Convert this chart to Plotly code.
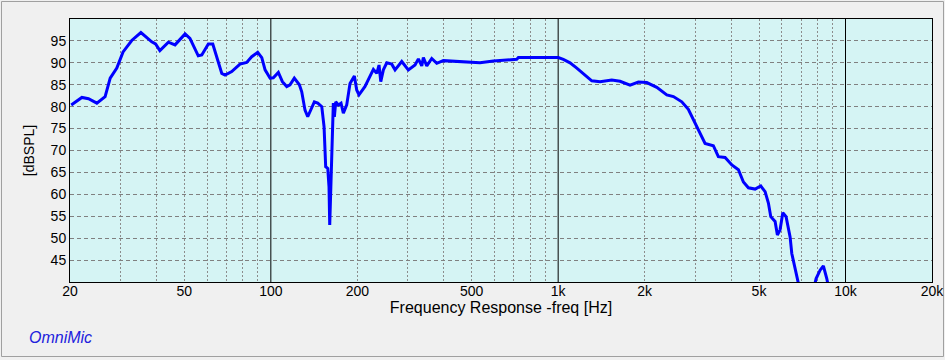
import math
import plotly.graph_objects as go

# ---- data ----
freq_hz = [20.2, 22.0, 23.2, 24.8, 26.5, 27.6, 29.1, 30.6, 32.8, 35.3, 38.5, 39.7, 41.1, 44.0,
           46.4, 50.3, 52.3, 55.9, 57.5, 60.6, 62.8, 64.8, 67.5, 69.3, 73.1, 78.1, 82.4, 85.8,
           90.0, 93.0, 95.5, 99.4, 102.0, 106.2, 109.7, 113.6, 116.6, 120.7, 125.7, 128.1,
           131.5, 134.4, 136.9, 141.7, 145.6, 150.4, 153.2, 154.4, 155.2, 157.8, 159.4, 160.3,
           162.0, 162.9, 165.0, 166.4, 168.2, 171.8, 175.5, 178.8, 183.7, 188.6, 195.3, 199.0,
           202.7, 212.7, 221.5, 227.4, 233.7, 238.0, 241.3, 246.4, 253.2, 263.5, 270.6, 285.5,
           301.0, 317.6, 326.2, 335.2, 339.5, 348.9, 363.1, 378.0, 398.5, 420.4, 467.8, 534.6,
           595, 680, 717.6, 727, 1001, 1042, 1100, 1161, 1224, 1309, 1399, 1536, 1642, 1779,
           1902, 2034, 2204, 2388, 2518, 2693, 2838, 2954, 3076, 3245, 3468, 3610, 3810, 4022,
           4240, 4413, 4592, 4846, 5071, 5250, 5391, 5494, 5688, 5794, 5920, 6050, 6211, 6414,
           6502, 6675, 6823, 7000, 7600, 7902, 8158, 8375, 8607, 8900]
spl_db = [80.4, 82.1, 81.8, 80.8, 82.3, 86.5, 88.8, 92.5, 95.1, 96.9, 94.8, 94.3, 92.8, 94.7,
          94.1, 96.6, 95.6, 91.6, 91.8, 94.3, 94.3, 91.4, 87.6, 87.2, 88.0, 89.7, 90.1, 91.4,
          92.4, 91.2, 88.4, 86.5, 86.6, 87.8, 85.7, 84.6, 85.0, 86.5, 85.0, 83.4,
          79.2, 77.7, 78.8, 81.1, 80.8, 80.0, 75.4, 70.1, 66.3, 65.9, 61.7, 53.0,
          63.3, 72.4, 80.8, 77.7, 81.1, 80.4, 80.8, 78.5, 80.4, 85.3, 87.0, 83.8,
          82.7, 84.6, 86.8, 88.5, 87.6, 89.5, 85.7, 88.4, 90.0, 89.7, 88.4, 90.3,
          88.4, 89.5, 90.9, 89.3, 91.2, 89.3, 91.0, 89.9, 90.5, 90.4, 90.1, 90.0,
          90.4, 90.6, 90.8, 91.2, 91.2, 90.8, 90.0, 88.8, 87.6, 85.9, 85.7, 86.1, 85.8, 84.9,
          85.6, 85.5, 84.4, 82.7, 82.3, 81.1, 79.4, 77.0, 74.7, 71.6, 71.1, 68.6, 68.4, 66.7,
          65.6, 62.8, 61.5, 61.2, 61.9, 60.6, 58.0, 54.9, 53.8, 50.7, 51.9, 55.8, 54.9, 50.3,
          46.5, 43.5, 40.8, 37.0, 36.0, 40.8, 42.7, 43.7, 40.8, 36.0]

x_tick_vals = [20, 50, 100, 200, 500, 1000, 2000, 5000, 10000, 20000]
x_tick_text = ["20", "50", "100", "200", "500", "1k", "2k", "5k", "10k", "20k"]
x_minor_vals = [30, 40, 50, 60, 70, 80, 90, 200, 300, 400, 500, 600, 700, 800, 900,
                2000, 3000, 4000, 5000, 6000, 7000, 8000, 9000]
x_decades = [100, 1000, 10000]
y_tick_vals = [45, 50, 55, 60, 65, 70, 75, 80, 85, 90, 95]
x_range = [20, 20000]
y_range = [40, 100]

fig = go.Figure()
fig.add_trace(go.Scatter(x=freq_hz, y=spl_db, mode="lines",
                         line=dict(color="#0000ff", width=3), showlegend=False,
                         hoverinfo="skip"))

for d in x_decades:
    fig.add_shape(type="line", xref="x", yref="paper", x0=d, x1=d, y0=0, y1=1,
                  line=dict(color="black", width=1), layer="between")

# outer window frame
ml, mr, mt, mb = 70, 13, 19, 78
W, H = 945, 360
pw, ph = W - ml - mr, H - mt - mb
fig.add_shape(type="rect", xref="paper", yref="paper",
              x0=(1.5 - ml) / pw, x1=(W - 1.5 - ml) / pw,
              y0=-((H - 3.5) - (H - mb)) / ph,
              y1=1 + (mt - 1.5) / ph,
              line=dict(color="#a0a0a0", width=1), fillcolor="rgba(0,0,0,0)", layer="below")

fig.add_annotation(text="<i>OmniMic</i>", xref="paper", yref="paper",
                   x=(27 - ml) / pw, y=-(337 - (H - mb)) / ph, xanchor="left", yanchor="middle",
                   showarrow=False, font=dict(family="Liberation Sans, Arial", size=16, color="#2222dd"))

fig.update_layout(
    width=W, height=H,
    margin=dict(l=ml, r=mr, t=mt, b=mb, autoexpand=False),
    paper_bgcolor="#f0f0f0",
    plot_bgcolor="#d5f4f4",
    font=dict(family="Liberation Sans, Arial", size=14, color="black"),
    xaxis=dict(
        type="log", range=[math.log10(x_range[0]), math.log10(x_range[1])],
        tickmode="array", tickvals=x_tick_vals, ticktext=x_tick_text, automargin=False,
        showgrid=False, zeroline=False, showline=True, linecolor="black", linewidth=1,
        mirror=True, ticks="", tickfont=dict(size=14), ticklabelstandoff=-4,
        minor=dict(tickmode="array", tickvals=x_minor_vals, showgrid=True,
                   gridcolor="#8c8c8c", gridwidth=1, griddash="2px,2px", ticks=""),
        title=dict(text="Frequency Response -freq [Hz]", font=dict(size=16), standoff=2),
    ),
    yaxis=dict(
        range=y_range, tickmode="array", tickvals=y_tick_vals, automargin=False,
        showgrid=True, gridcolor="#808080", gridwidth=1, griddash="4px,3px",
        zeroline=False, showline=True, linecolor="black", linewidth=1, mirror=True,
        ticks="", tickfont=dict(size=14),
        title=dict(text="[dBSPL]", font=dict(size=14), standoff=12),
    ),
)

fig.write_html("out.html", config={"displayModeBar": False},
               post_script="document.body.style.margin='0';")
